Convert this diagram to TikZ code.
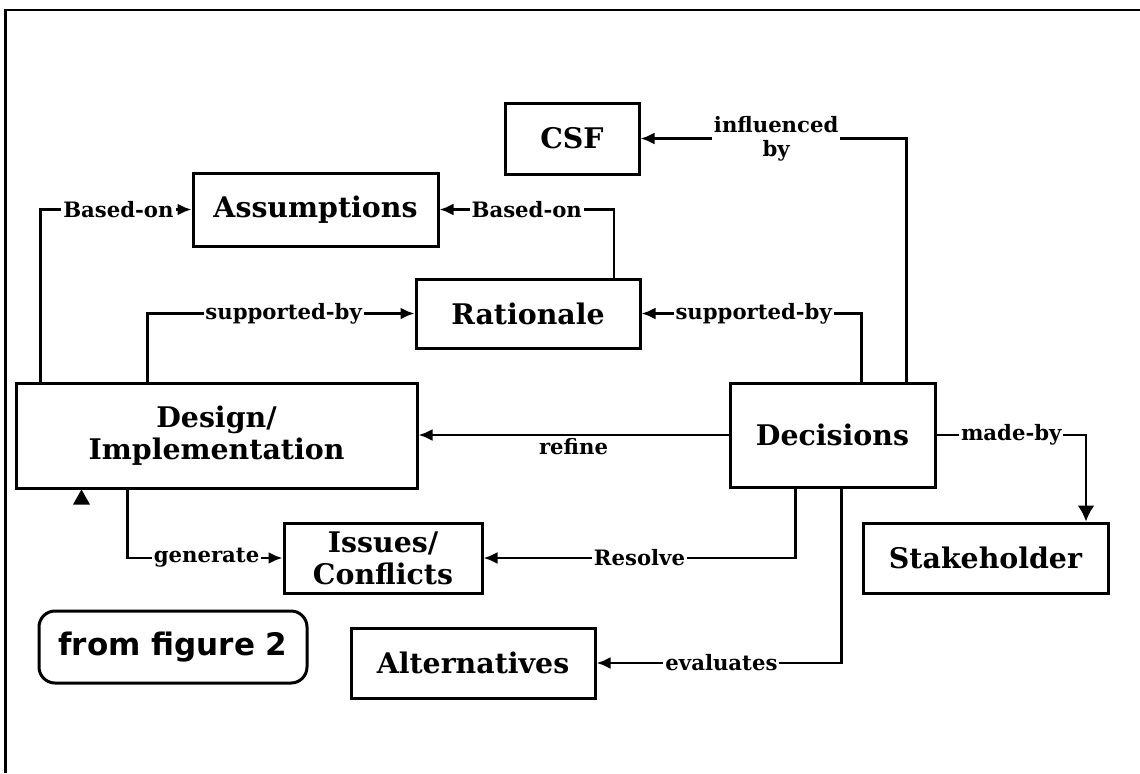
\documentclass[tikz,border=0pt]{standalone}
\usepackage{fontspec}
\setmainfont{DejaVu Serif}
\setsansfont{DejaVu Sans}
\usetikzlibrary{arrows.meta,calc}

\tikzset{
	entity/.style={draw, line width=1.5pt, inner sep=0pt, align=center,
		font=\bfseries\fontsize{14.2}{16}\selectfont},
	relname/.style={fill=white, inner sep=1pt, align=center,
		font=\bfseries\fontsize{10.6}{12}\selectfont},
	relarrow/.style={line width=1.35pt, -{Latex[length=7pt,width=6pt]}},
}

\begin{document}
\begin{tikzpicture}[x=0.5pt, y=-0.5pt]
		\useasboundingbox (0,0) rectangle (1140,773);
		\draw [line width=1.4pt] (5.5,773) -- (5.5,10) -- (1140,10);

		\node[entity, minimum width=67pt, minimum height=35.5pt] (csf) at (572,138.5) {CSF};
		\node[entity, minimum width=122.5pt, minimum height=36.5pt] (assump) at (315.5,209.5) {Assumptions};
		\node[entity, minimum width=112pt, minimum height=34.5pt] (ration) at (528,313.5) {Rationale};
		\node[entity, minimum width=200.5pt, minimum height=52.5pt] (design) at (216.5,435.5) {Design/\\Implementation};
		\node[entity, minimum width=102.5pt, minimum height=52pt] (decis) at (832.5,435) {Decisions};
		\node[entity, minimum width=99pt, minimum height=35pt] (issues) at (383,558) {Issues/\\Conflicts};
		\node[entity, minimum width=122.5pt, minimum height=35pt] (stake) at (985.5,558) {Stakeholder};
		\node[entity, minimum width=122pt, minimum height=35pt] (altern) at (473,663) {Alternatives};
		\node[entity, rounded corners=8pt, minimum width=134pt, minimum height=36pt,
			font=\sffamily\bfseries\fontsize{15.5}{17}\selectfont] (fig2) at (173,647) {from figure 2};

		\draw [relarrow] ($(design.north west)+(26,0)$) |- node[relname, pos=0.758]{Based-on} (assump.west);
		\draw [relarrow] ($(ration.north)+(86,0)$) |- node[relname, pos=0.75]{Based-on} (assump.east);
		\draw [relarrow] ($(design.north west)+(133,0)$) |- node[relname, pos=0.755]{supported-by} (ration.west);
		\draw [relarrow] ($(decis.north west)+(133,0)$) |- node[relname, pos=0.745]{supported-by} (ration.east);
		\draw [relarrow] ($(decis.north west)+(178,0)$) |- node[relname, pos=0.745]{influenced\\by} (csf.east);
		\draw [relarrow] (decis.west) -- node[relname, fill=none, below, pos=0.5]{refine} (design.east |- decis.west);
		\draw [relarrow, -{Latex[length=8pt,width=8.5pt]}] (decis.east) -| node[relname, pos=0.25]{made-by} ($(stake.north)+(100.5,0)$);
		\draw [relarrow] ($(decis.south west)+(67,0)$) |- node[relname, pos=0.75]{Resolve} (issues.east);
		\draw [relarrow] ($(decis.south west)+(113,0)$) |- node[relname, pos=0.745]{evaluates} (altern.east);
		\draw [relarrow] ($(design.south west)+(113,0)$) |- node[relname, pos=0.755]{generate} (issues.west);

		\fill ($(design.south west)+(67,0)$) -- ++(-8.5,15) -- ++(17,0) -- cycle;  % from figure 2
	\end{tikzpicture}
\end{document}
